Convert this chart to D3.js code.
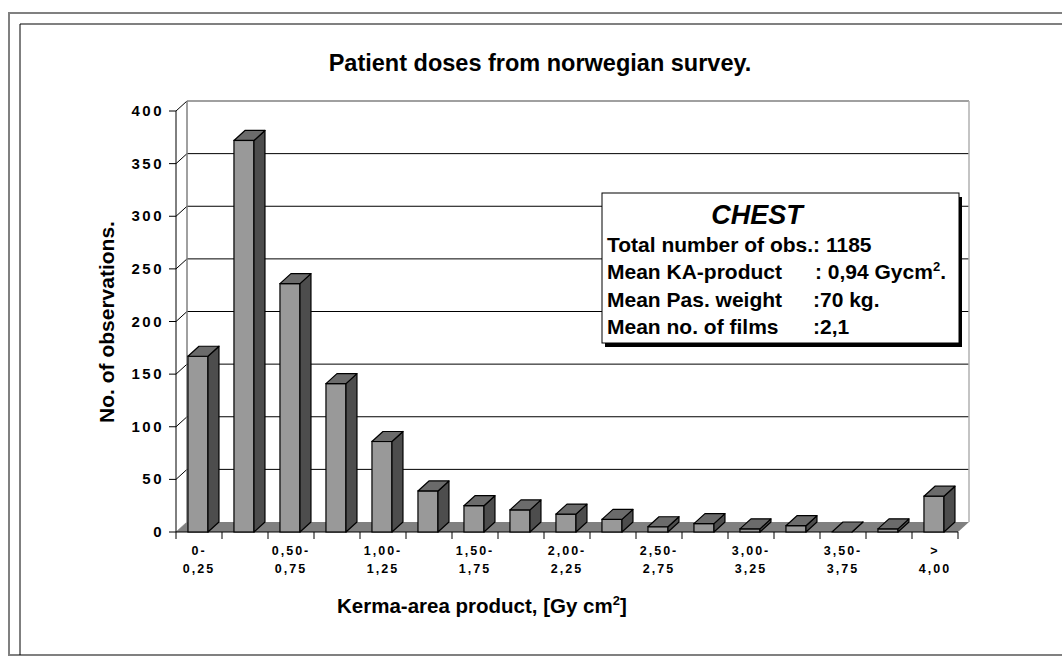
<!DOCTYPE html>
<html>
<head>
<meta charset="utf-8">
<script src="https://cdn.jsdelivr.net/npm/d3@7"></script>
<style>
  body { margin: 0; background: #fff; }
  text { font-family: Arial, "Liberation Sans", sans-serif; font-weight: bold; fill: #000; }
</style>
</head>
<body>
<div id="chart"></div>
<script>
// Chart data
const categories = ["0-0,25", "0,25-0,50", "0,50-0,75", "0,75-1,00", "1,00-1,25", "1,25-1,50",
  "1,50-1,75", "1,75-2,00", "2,00-2,25", "2,25-2,50", "2,50-2,75", "2,75-3,00",
  "3,00-3,25", "3,25-3,50", "3,50-3,75", "3,75-4,00", ">4,00"];
const observations = [167, 372, 236, 141, 86, 39, 25, 21, 17, 12, 5, 8, 3, 6, 0, 3, 34];

// Only every other category gets a label (two lines each)
const labelTop = ["0-", "", "0,50-", "", "1,00-", "", "1,50-", "", "2,00-", "", "2,50-", "", "3,00-", "", "3,50-", "", ">"];
const labelBottom = ["0,25", "", "0,75", "", "1,25", "", "1,75", "", "2,25", "", "2,75", "", "3,25", "", "3,75", "", "4,00"];
const yTicks = [0, 50, 100, 150, 200, 250, 300, 350, 400];

const legendTitle = "CHEST";
const legendNames = ["Total number of obs.: 1185", "Mean KA-product", "Mean Pas. weight", "Mean no. of films"];
const legendValues = ["", ": 0,94 Gycm", ":70 kg.", ":2,1"];

const width = 1062;
const height = 657;

// plot area (front plane) and 3D depth offset
const plot = { left: 176, right: 958, top: 111, bottom: 532 };
const depth = { dx: 11, dy: 10 };

const svg = d3.select("#chart")
  .append("svg")
    .attr("width", width)
    .attr("height", height);

// Frames
svg.append("rect")
  .attr("x", 9).attr("y", 13).attr("width", 1100).attr("height", 642)
  .attr("fill", "none").attr("stroke", "#808080").attr("stroke-width", 2);
svg.append("line")
  .attr("x1", 20).attr("x2", width).attr("y1", 24).attr("y2", 24)
  .attr("stroke", "#808080").attr("stroke-width", 2);
svg.append("line")
  .attr("x1", 20).attr("x2", 20).attr("y1", 24).attr("y2", 655)
  .attr("stroke", "#000").attr("stroke-width", 1);

const xScale = d3.scaleBand()
  .domain(categories)
  .range([plot.left, plot.right])
  .padding(0);

const yScale = d3.scaleLinear()
  .domain([0, 400])
  .range([plot.bottom, plot.top]);

const bw = xScale.bandwidth();

// Back wall gridlines
svg.selectAll(".grid")
  .data(yTicks.filter(d => d > 0))
  .join("line")
    .attr("class", "grid")
    .attr("x1", plot.left + depth.dx)
    .attr("x2", plot.right + depth.dx)
    .attr("y1", d => yScale(d) - depth.dy)
    .attr("y2", d => yScale(d) - depth.dy)
    .attr("stroke", d => d === 400 ? "#808080" : "#000")
    .attr("stroke-width", d => d === 400 ? 1.5 : 1);

// Side wall diagonals from the axis ticks
svg.selectAll(".wallTick")
  .data(yTicks)
  .join("line")
    .attr("class", "wallTick")
    .attr("x1", plot.left)
    .attr("x2", plot.left + depth.dx)
    .attr("y1", d => yScale(d))
    .attr("y2", d => yScale(d) - depth.dy)
    .attr("stroke", d => d === 0 ? "#aaa" : "#000");

// wall edges
svg.append("line")
  .attr("x1", plot.left + depth.dx).attr("x2", plot.left + depth.dx)
  .attr("y1", plot.top - depth.dy).attr("y2", plot.bottom - depth.dy)
  .attr("stroke", "#808080").attr("stroke-width", 1.5);
svg.append("line")
  .attr("x1", plot.right + depth.dx).attr("x2", plot.right + depth.dx)
  .attr("y1", plot.top - depth.dy).attr("y2", plot.bottom - depth.dy)
  .attr("stroke", "#b0b0b0").attr("stroke-width", 1.5);

// Floor
svg.append("path")
  .attr("d", `M${plot.left},${plot.bottom} L${plot.right},${plot.bottom} L${plot.right + depth.dx},${plot.bottom - depth.dy} L${plot.left + depth.dx},${plot.bottom - depth.dy} Z`)
  .attr("fill", "#808080");

// Left axis line and ticks
svg.append("line")
  .attr("x1", plot.left).attr("x2", plot.left)
  .attr("y1", plot.top).attr("y2", plot.bottom)
  .attr("stroke", "#000");
svg.selectAll(".yTick")
  .data(yTicks)
  .join("line")
    .attr("class", "yTick")
    .attr("x1", plot.left - 7).attr("x2", plot.left)
    .attr("y1", d => yScale(d)).attr("y2", d => yScale(d))
    .attr("stroke", "#000");
svg.selectAll(".yLabel")
  .data(yTicks)
  .join("text")
    .attr("class", "yLabel")
    .attr("x", 164)
    .attr("y", d => yScale(d) + 5)
    .attr("text-anchor", "end")
    .style("font-size", "15px")
    .style("letter-spacing", "2.5px")
    .text(d => d);

// Bottom axis line and ticks at category boundaries
svg.append("line")
  .attr("x1", plot.left).attr("x2", plot.right)
  .attr("y1", plot.bottom).attr("y2", plot.bottom)
  .attr("stroke", "#000");
svg.selectAll(".xTick")
  .data(categories.concat(["end"]))
  .join("line")
    .attr("class", "xTick")
    .attr("x1", d => d === "end" ? plot.right : xScale(d))
    .attr("x2", d => d === "end" ? plot.right : xScale(d))
    .attr("y1", plot.bottom).attr("y2", plot.bottom + 7)
    .attr("stroke", "#000");

// Bars (front, side, top)
const barOffset = bw * 0.26;
const barWidth = bw * 0.435;

const bars = svg.selectAll(".bar")
  .data(categories.map((c, i) => ({ cat: c, value: observations[i] })))
  .join("g")
    .attr("class", "bar");

bars.append("rect")
  .attr("x", d => xScale(d.cat) + barOffset)
  .attr("y", d => yScale(d.value))
  .attr("width", barWidth)
  .attr("height", d => plot.bottom - yScale(d.value))
  .attr("fill", "#999999")
  .attr("stroke", "#000")
  .attr("stroke-width", 1.2);

bars.append("path")
  .attr("d", d => {
    const x1 = xScale(d.cat) + barOffset + barWidth;
    const yt = yScale(d.value);
    return `M${x1},${yt} L${x1 + depth.dx},${yt - depth.dy} L${x1 + depth.dx},${plot.bottom - depth.dy} L${x1},${plot.bottom} Z`;
  })
  .attr("fill", "#4d4d4d")
  .attr("stroke", "#000")
  .attr("stroke-width", 1.2)
  .attr("stroke-linejoin", "round");

bars.append("path")
  .attr("d", d => {
    const x0 = xScale(d.cat) + barOffset;
    const yt = yScale(d.value);
    return `M${x0},${yt} L${x0 + barWidth},${yt} L${x0 + barWidth + depth.dx},${yt - depth.dy} L${x0 + depth.dx},${yt - depth.dy} Z`;
  })
  .attr("fill", "#6b6b6b")
  .attr("stroke", "#000")
  .attr("stroke-width", 1.2)
  .attr("stroke-linejoin", "round");

// Category labels
const xLabels = svg.selectAll(".xLabel")
  .data(categories.map((c, i) => ({ cat: c, top: labelTop[i], bottom: labelBottom[i] })).filter(d => d.top !== ""))
  .join("g")
    .attr("class", "xLabel")
    .attr("transform", d => `translate(${xScale(d.cat) + bw / 2},0)`);
xLabels.append("text")
  .attr("y", 555)
  .attr("text-anchor", "middle")
  .style("font-size", "12.5px")
  .style("letter-spacing", "2px")
  .text(d => d.top);
xLabels.append("text")
  .attr("y", 573)
  .attr("text-anchor", "middle")
  .style("font-size", "12.5px")
  .style("letter-spacing", "2px")
  .text(d => d.bottom);

// Title and axis titles
svg.append("text")
  .attr("x", 540)
  .attr("y", 71)
  .attr("text-anchor", "middle")
  .style("font-size", "23.5px")
  .text("Patient doses from norwegian survey.");

svg.append("text")
  .attr("transform", "translate(114,322) rotate(-90)")
  .attr("text-anchor", "middle")
  .style("font-size", "21px")
  .text("No. of observations.");

const xTitle = svg.append("text")
  .attr("x", 337)
  .attr("y", 613)
  .style("font-size", "20.5px")
  .text("Kerma-area product, [Gy cm");
xTitle.append("tspan").attr("dy", -8).style("font-size", "13px").text("2");
xTitle.append("tspan").attr("dy", 8).text("]");

// Legend box
const legend = { x: 602, y: 193, w: 357, h: 150 };
svg.append("rect")
  .attr("x", legend.x + 3).attr("y", legend.y + 4)
  .attr("width", legend.w).attr("height", legend.h)
  .attr("fill", "#000");
svg.append("rect")
  .attr("x", legend.x).attr("y", legend.y)
  .attr("width", legend.w).attr("height", legend.h)
  .attr("fill", "#fff").attr("stroke", "#000");

svg.append("text")
  .attr("x", 757).attr("y", 224)
  .attr("text-anchor", "middle")
  .style("font-size", "27px")
  .style("font-style", "italic")
  .text(legendTitle);

const legendY = [252, 279, 307, 334];
const valueX = [0, 815, 813, 813];
legendNames.forEach(function (name, i) {
  svg.append("text")
    .attr("x", 607).attr("y", legendY[i])
    .style("font-size", "21px")
    .text(name);
  if (legendValues[i] !== "") {
    const t = svg.append("text")
      .attr("x", valueX[i]).attr("y", legendY[i])
      .style("font-size", "21px")
      .text(legendValues[i]);
    if (i === 1) {
      t.append("tspan").attr("dy", -8).style("font-size", "13px").text("2");
      t.append("tspan").attr("dy", 8).text(".");
    }
  }
});
</script>
</body>
</html>
